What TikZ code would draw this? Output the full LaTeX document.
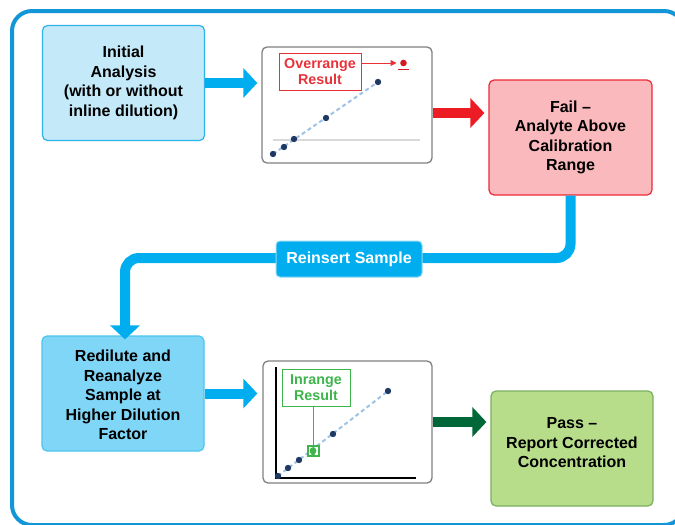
\documentclass[tikz,border=0pt]{standalone}
\usepackage{fontspec}
\setmainfont{Liberation Sans}
\usetikzlibrary{arrows.meta}
\definecolor{framec}{RGB}{18,150,215}
\definecolor{cyanc}{RGB}{0,174,239}
\definecolor{initfill}{RGB}{196,233,249}
\definecolor{initdraw}{RGB}{45,179,234}
\definecolor{redilfill}{RGB}{128,214,247}
\definecolor{redildraw}{RGB}{78,196,238}
\definecolor{failfill}{RGB}{249,185,189}
\definecolor{faildraw}{RGB}{238,42,53}
\definecolor{passfill}{RGB}{183,220,138}
\definecolor{passdraw}{RGB}{123,175,96}
\definecolor{redarrow}{RGB}{237,28,36}
\definecolor{greenarrow}{RGB}{0,104,56}
\definecolor{redlab}{RGB}{232,50,58}
\definecolor{greenlab}{RGB}{61,181,74}
\definecolor{navy}{RGB}{31,56,100}
\definecolor{dashblue}{RGB}{157,195,230}
\definecolor{gridgray}{RGB}{217,217,217}
\definecolor{chartdraw}{RGB}{128,128,128}
\definecolor{labeldraw}{RGB}{142,216,245}
\begin{document}
\begin{tikzpicture}[x=1pt,y=-1pt,
  boxtext/.style={align=center, inner sep=0pt,
    font=\bfseries\fontsize{16}{19.5}\selectfont, text=black},
  box/.style={draw, rounded corners=5, line width=1.2pt, inner sep=0pt,
    minimum width=162pt, minimum height=115pt, boxtext},
  chart/.style={draw=chartdraw, fill=white, rounded corners=5, line width=1.3pt, inner sep=0pt},
  fat/.style={line width=10pt, -{Triangle[width=29pt,length=14pt]}},
  lab/.style={draw, fill=white, line width=1pt, align=center, inner sep=0pt,
    font=\bfseries\fontsize{14.3}{16}\selectfont},
  dline/.style={dashblue, line width=2pt, dash pattern=on 4pt off 3pt}
]
\useasboundingbox (0,0) rectangle (675,525);
\begin{scope}
  \clip (0,0) rectangle (675,525);
  \draw[framec, line width=4pt, rounded corners=20pt] (12,11) rectangle (684,525);
\end{scope}

% boxes
\node[box, fill=initfill, draw=initdraw] (init) at (123.5,83)
  {Initial\\Analysis\\(with or without\\inline dilution)};
\node[box, fill=failfill, draw=faildraw, minimum width=163pt] (fail) at (570.5,137.5)
  {Fail –\\Analyte Above\\Calibration\\Range};
\node[box, fill=redilfill, draw=redildraw,
  label={[boxtext, yshift=-1.5pt]center:Redilute and\\Reanalyze\\Sample at\\Higher Dilution\\Factor}]
  (redil) at (123,393.5) {};
\node[box, fill=passfill, draw=passdraw,
  label={[boxtext, yshift=5.5pt]center:Pass –\\Report Corrected\\Concentration}]
  (pass) at (572,448.5) {};

% chart 1
\node[chart, minimum width=170pt, minimum height=116pt] (chart1) at (347,105) {};
\draw[gridgray, line width=2pt] (273,140) -- (420,140);
\draw[dline] (273,154) -- (378,82);
\foreach \p in {(273,154),(284,147),(294,139),(326,118),(378,82)}
  \fill[navy] \p circle (3.2pt);
\node[lab, draw=redlab, text=redlab, minimum width=82pt, minimum height=37pt] (ovl) at (320,71.5)
  {Overrange\\Result};
\coordinate (rd) at (403.5,63);
\fill[redarrow!90!black] (rd) circle (3.3pt);
\draw[redarrow!90!black, line width=1.5pt] (398,69.5) -- (409,69.5);
\draw[redlab, line width=1pt, -{Triangle[width=6pt,length=6pt]}] (ovl.east |- rd) -- ([xshift=-7pt]rd);

% chart 2
\node[chart, minimum width=169pt, minimum height=122pt] (chart2) at (347.5,422) {};
\draw[black, line width=2pt] (276,367) -- (276,478) -- (416,478);
\draw[dline] (278,476) -- (388,391);
\foreach \p in {(278,476),(288,468),(299,460),(333,434),(388,391)}
  \fill[navy] \p circle (3.2pt);
\coordinate (gp) at (313,450.5);
\draw[greenlab, line width=2pt] (307.5,445.5) rectangle (318.5,456);
\fill[greenlab] (gp) circle (3.3pt);
\node[lab, draw=greenlab, text=greenlab, minimum width=68pt, minimum height=37pt] (inl) at (316,387.5)
  {Inrange\\Result};
\draw[greenlab, line width=1pt, -{Triangle[width=6pt,length=6pt]}] (inl.south -| gp) -- ([yshift=-7pt]gp);

% fat arrows
\draw[fat, cyanc] (init.east) -- ([xshift=-4pt]chart1.west |- init.east);
\draw[fat, redarrow] (chart1.east |- 0,113) -- ([xshift=-4pt]fail.west |- 0,113);
\draw[fat, cyanc] (redil.east) -- ([xshift=-5pt]chart2.west |- redil.east);
\draw[fat, greenarrow] (chart2.east |- 0,422) -- ([xshift=-4pt]pass.west |- 0,422);

% reinsert connector
\coordinate (turn) at (125,258);
\draw[cyanc, line width=10pt, rounded corners=14pt, -{Triangle[width=29pt,length=14pt]}]
  (fail.south) |- (turn) -- ([yshift=-4pt]turn |- redil.north);
\node[draw=labeldraw, fill=cyanc, line width=1pt, rounded corners=4pt, text=white,
  minimum width=146pt, minimum height=36pt, inner sep=0pt,
  font=\bfseries\fontsize{16}{19}\selectfont] (reins) at (349,259) {Reinsert Sample};
\end{tikzpicture}
\end{document}
